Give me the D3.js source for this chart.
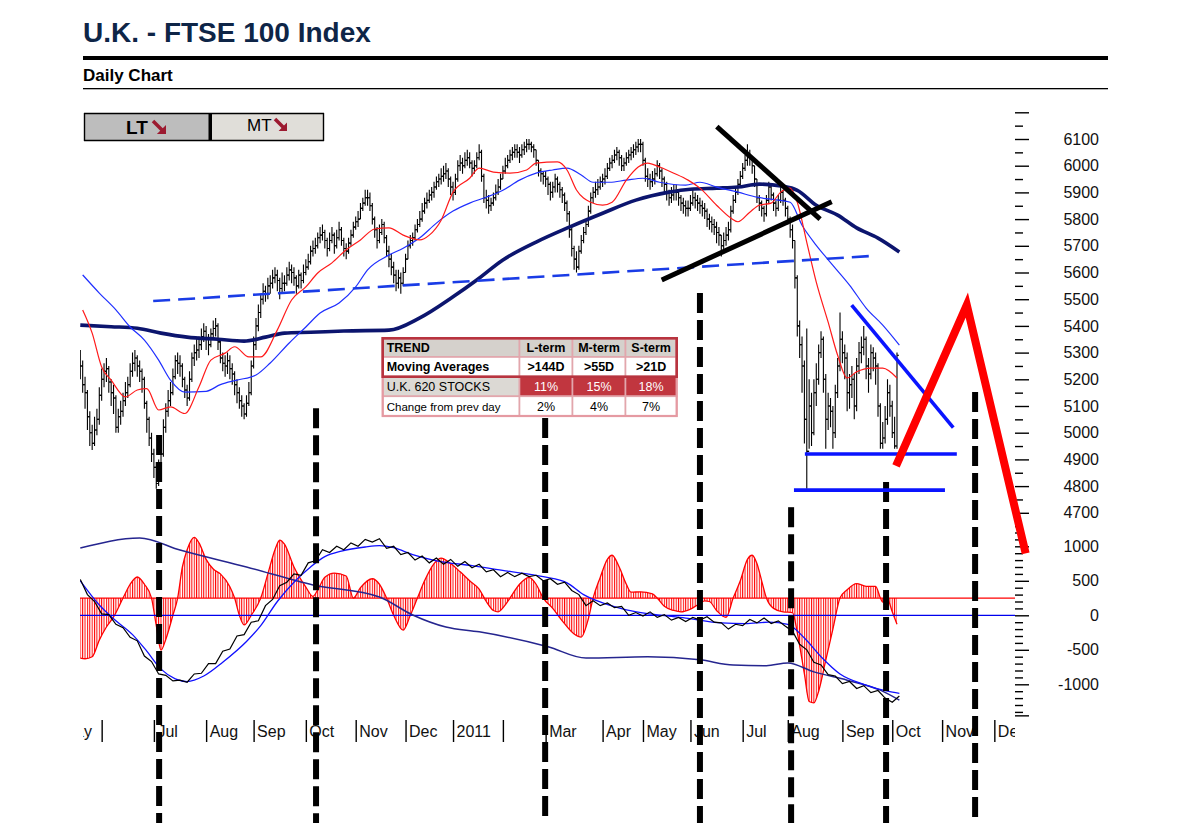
<!DOCTYPE html>
<html>
<head>
<meta charset="utf-8">
<script src="https://cdn.jsdelivr.net/npm/d3@7"></script>
<style>
  body { margin: 0; background: #fff; font-family: "Liberation Sans", Arial, sans-serif; }
</style>
</head>
<body>
<div id="chart"></div>
<script>
// ── month ticks (trading-day index) ──────────────────────────────────────
const monthTicks  = [-9.3, 9, 31, 53, 73, 95, 116, 137, 157, 178, 196, 220, 237, 257, 279, 298, 321, 342, 363, 385];
const monthLabels = ['May', '', 'Jul', 'Aug', 'Sep', 'Oct', 'Nov', 'Dec', '2011', '', 'Mar', 'Apr', 'May', 'Jun', 'Jul', 'Aug', 'Sep', 'Oct', 'Nov', 'Dec'];

// ── daily bars ───────────────────────────────────────────────────────────
const closes = [
  5250,5180,5150,5060,5000,4960,5010,5050,5140,5200, 5230,5240,5190,5150,5130,5020,5060,5080,5120,5150,
  5180,5230,5260,5280,5250,5230,5200,5110,5050,4980, 4920,4870,4810,4850,4920,5020,5080,5120,5150,5210,
  5270,5260,5250,5200,5160,5130,5200,5280,5300,5310, 5330,5360,5380,5350,5330,5370,5390,5400,5340,5280,
  5260,5250,5270,5240,5220,5180,5150,5120,5100,5070, 5110,5150,5250,5330,5400,5450,5500,5530,5520,5550,
  5560,5580,5590,5570,5540,5560,5560,5590,5610,5600, 5580,5550,5590,5570,5600,5620,5640,5680,5690,5700,
  5730,5740,5750,5720,5690,5720,5740,5700,5730,5760, 5720,5690,5680,5710,5740,5770,5790,5800,5840,5860,
  5880,5880,5850,5800,5760,5720,5750,5780,5730,5680, 5650,5620,5590,5560,5580,5560,5600,5650,5700,5720,
  5730,5760,5780,5800,5830,5860,5870,5890,5900,5920, 5940,5950,5960,5970,5980,5950,5920,5900,5950,6000,
  6010,6000,6020,6030,6010,5990,6000,6030,6050,5960, 5880,5870,5850,5860,5880,5900,5920,5950,5980,6000,
  6020,6040,6050,6060,6050,6040,6060,6070,6080,6080, 6070,6060,6020,5980,5970,5960,5950,5930,5900,5920,
  5950,5930,5910,5890,5860,5820,5760,5690,5650,5620, 5680,5720,5750,5780,5830,5880,5900,5910,5920,5940,
  5950,5960,5990,6010,6020,6040,6050,6030,6000,6010, 6030,6040,6050,6060,6070,6080,6080,6020,5960,5950,
  5940,5950,5970,6000,5980,5950,5930,5900,5880,5890, 5900,5900,5880,5860,5850,5840,5840,5860,5880,5870,
  5860,5850,5840,5830,5800,5790,5780,5770,5750,5740, 5700,5720,5740,5760,5830,5870,5900,5930,5960,5990,
  6020,6040,6030,6000,5950,5880,5860,5840,5820,5870, 5920,5890,5860,5840,5870,5900,5870,5840,5800,5760,
  5720,5580,5400,5330,5250,5050,4930,5100,5000,5150, 5200,5300,5350,5200,5050,5100,5080,5000,5150,5250,
  5350,5300,5280,5150,5180,5200,5100,5250,5300,5320, 5350,5250,5220,5300,5280,5250,5100,4960,4980,5050,
  5150,5100,5000,4950,5290
];
const highs = [
  5310,5270,5210,5160,5080,5030,5060,5090,5170,5240, 5260,5280,5250,5200,5180,5140,5090,5120,5150,5190,
  5210,5260,5300,5310,5290,5270,5240,5210,5120,5060, 5000,4940,4890,4900,4960,5050,5110,5160,5190,5240,
  5290,5300,5290,5260,5210,5180,5230,5300,5330,5350, 5360,5390,5410,5400,5370,5390,5420,5430,5410,5350,
  5300,5290,5300,5290,5260,5230,5200,5170,5140,5110, 5140,5190,5270,5360,5430,5480,5520,5560,5550,5580,
  5590,5610,5620,5610,5580,5600,5590,5620,5640,5630, 5620,5590,5610,5600,5630,5650,5670,5700,5720,5730,
  5750,5770,5780,5760,5730,5750,5770,5750,5760,5790, 5770,5730,5710,5730,5760,5790,5810,5830,5860,5880,
  5910,5910,5900,5860,5810,5770,5780,5800,5790,5740, 5700,5670,5640,5610,5610,5600,5620,5670,5720,5740,
  5750,5780,5800,5830,5860,5880,5900,5910,5920,5940, 5960,5970,5990,6000,6010,5990,5960,5940,5970,6020,
  6040,6030,6050,6060,6050,6020,6020,6050,6080,6060, 5970,5910,5890,5880,5900,5930,5950,5970,6000,6030,
  6040,6060,6070,6080,6080,6070,6080,6090,6100,6100, 6090,6080,6060,6020,5990,5980,5980,5960,5940,5940,
  5970,5960,5940,5920,5900,5870,5830,5770,5700,5680, 5700,5740,5770,5800,5850,5900,5920,5940,5950,5960,
  5970,5990,6010,6030,6040,6060,6070,6060,6040,6030, 6050,6060,6070,6080,6090,6100,6100,6090,6030,5990,
  5970,5980,5990,6020,6010,5990,5960,5940,5910,5920, 5930,5930,5910,5890,5880,5870,5870,5890,5910,5900,
  5890,5880,5870,5860,5840,5820,5810,5800,5790,5770, 5740,5750,5770,5790,5850,5890,5920,5950,5980,6010,
  6040,6080,6060,6030,6000,5950,5890,5870,5850,5890, 5940,5930,5900,5870,5890,5920,5910,5880,5850,5810,
  5780,5720,5590,5420,5360,5270,5390,5200,5150,5200, 5260,5330,5380,5360,5220,5150,5130,5100,5180,5280,
  5450,5380,5330,5300,5220,5250,5220,5280,5340,5360, 5400,5360,5280,5330,5320,5300,5260,5110,5040,5100,
  5200,5180,5120,5060,5300
];
const lows = [
  5200,5150,5090,5010,4950,4935,4950,4990,5030,5120, 5170,5190,5150,5100,5070,5000,5000,5030,5060,5100,
  5130,5170,5210,5230,5210,5190,5150,5090,5000,4950, 4890,4830,4790,4800,4840,4910,5000,5060,5100,5140,
  5200,5220,5210,5170,5130,5100,5120,5190,5250,5270, 5280,5310,5340,5310,5290,5320,5350,5360,5310,5260,
  5230,5210,5220,5200,5180,5140,5110,5090,5060,5050, 5060,5100,5140,5240,5310,5380,5430,5480,5490,5500,
  5520,5540,5560,5530,5500,5520,5530,5550,5570,5560, 5550,5520,5540,5540,5560,5590,5610,5630,5660,5670,
  5690,5710,5720,5690,5660,5680,5710,5670,5690,5720, 5700,5660,5650,5670,5700,5730,5760,5770,5800,5830,
  5850,5850,5830,5780,5730,5690,5710,5740,5710,5660, 5620,5590,5560,5530,5540,5520,5550,5600,5650,5690,
  5700,5720,5750,5770,5790,5820,5840,5860,5870,5880, 5910,5920,5930,5940,5950,5920,5890,5870,5890,5940,
  5980,5970,5990,6000,5990,5960,5970,5990,6020,5940, 5860,5840,5820,5830,5850,5870,5890,5910,5950,5970,
  5990,6010,6020,6030,6030,6010,6030,6040,6050,6060, 6050,6030,6000,5960,5940,5930,5920,5890,5870,5880,
  5900,5900,5880,5860,5830,5790,5730,5660,5610,5600, 5610,5670,5710,5740,5770,5820,5860,5880,5890,5910,
  5920,5930,5950,5980,5990,6010,6020,6000,5980,5980, 6000,6010,6020,6030,6040,6050,6050,6000,5940,5920,
  5910,5920,5930,5960,5950,5920,5900,5870,5850,5860, 5870,5870,5850,5830,5820,5810,5810,5830,5850,5840,
  5830,5820,5810,5800,5770,5760,5750,5740,5710,5700, 5660,5680,5700,5720,5750,5820,5860,5890,5920,5950,
  5980,6000,6000,5970,5920,5860,5830,5810,5790,5810, 5860,5870,5830,5810,5830,5860,5850,5810,5780,5730,
  5690,5540,5360,5280,5150,4960,4790,4940,4950,4990, 5100,5180,5280,5150,4940,5010,5020,4940,4980,5130,
  5230,5260,5200,5080,5090,5130,5050,5080,5220,5260, 5290,5200,5150,5200,5230,5180,5060,4940,4940,4960,
  5030,5060,4980,4940,4940
];

// ── moving averages, [day, value] ────────────────────────────────────────
const ma21 = [[1,5460],[5,5373],[9,5246],[13,5197],[19,5134],[24,5160],[28,5165],[33,5085],[38,5097],[44,5072],
  [50,5172],[55,5272],[61,5298],[65,5322],[71,5284],[76,5284],[83,5385],[89,5497],[95,5546],[100,5598],
  [106,5636],[112,5685],[118,5722],[124,5763],[130,5767],[136,5740],[143,5722],[147,5740],[152,5796],[157,5901],
  [164,5953],[168,5991],[174,5976],[181,5972],[188,5984],[192,6010],[201,6014],[205,5984],[209,5909],[215,5863],
  [220,5852],[224,5863],[230,5946],[235,5995],[239,6010],[244,5995],[250,5972],[256,5946],[261,5916],[268,5852],
  [274,5804],[277,5790],[282,5826],[286,5852],[291,5860],[295,5901],[299,5916],[302,5863],[306,5713],[310,5564],
  [315,5414],[319,5290],[323,5205],[327,5228],[333,5242],[338,5242],[344,5205]];
const ma55 = [[1,5591],[8,5523],[15,5460],[21,5396],[27,5347],[33,5272],[38,5197],[44,5152],[53,5155],[59,5180],
  [66,5197],[74,5216],[80,5261],[88,5336],[95,5396],[101,5448],[109,5486],[116,5546],[121,5610],[130,5665],
  [136,5691],[143,5730],[150,5785],[157,5830],[164,5860],[171,5882],[178,5908],[185,5946],[192,5972],[199,5984],
  [205,5991],[211,5965],[216,5938],[223,5938],[230,5946],[237,5953],[244,5938],[255,5927],[261,5938],[268,5920],
  [277,5901],[285,5882],[294,5871],[299,5863],[304,5777],[310,5702],[317,5627],[324,5553],[331,5467],[338,5403],
  [345,5328]];
const ma144 = [[0,5403],[13,5397],[24,5391],[34,5373],[45,5358],[58,5350],[69,5343],[78,5358],[86,5373],[97,5376],
  [111,5381],[130,5384],[143,5430],[157,5509],[167,5572],[178,5647],[192,5714],[206,5770],[220,5822],[234,5871],
  [248,5901],[257,5912],[268,5916],[277,5920],[286,5931],[296,5923],[302,5908],[310,5852],[319,5815],[327,5767],
  [336,5729],[345,5677]];

// ── lower panel oscillators ──────────────────────────────────────────────
const histBase = 250;
const histo = [[0,-870],[2,-880],[5,-850],[8,-610],[11,-420],[14,-275],[18,0],[21,200],[24,305],[27,200],[30,0],
  [32,-400],[34,-755],[36,-600],[39,-250],[41,0],[43,450],[45,700],[48,880],[50,800],[53,560],[56,420],[59,350],
  [63,165],[65,0],[67,-250],[69,-390],[72,-250],[76,0],[79,350],[82,700],[84,840],[86,780],[90,450],[95,160],
  [98,25],[100,120],[103,300],[107,360],[112,320],[115,0],[118,150],[123,280],[126,200],[129,0],[132,-250],
  [136,-465],[139,-250],[142,0],[145,250],[149,500],[152,580],[156,500],[160,380],[164,250],[168,130],[171,-50],
  [174,-180],[176,-200],[179,-100],[181,0],[185,200],[189,300],[192,200],[195,0],[199,-150],[203,-330],[208,-520],
  [211,-565],[214,-300],[216,0],[219,300],[222,560],[224,620],[227,450],[230,200],[232,85],[236,90],[241,60],
  [243,0],[246,-120],[250,-180],[253,-200],[257,-160],[260,-100],[263,-40],[265,-50],[268,-180],[272,-280],
  [275,0],[278,250],[281,560],[283,620],[285,500],[287,250],[289,0],[292,-150],[296,-200],[300,-210],[302,-500],
  [305,-1100],[307,-1500],[309,-1520],[311,-1350],[314,-900],[317,-450],[320,0],[323,120],[327,210],[331,170],
  [335,170],[337,0],[338,-60],[340,-20],[342,-200],[344,-380]];
const oscStep = 3;
const oscFast = [520,300,200,20,10,-130,-180,-320,-370,-590, -670,-850,-870,-950,-940,-970,-850,-840,-700,-700,
  -520,-490,-300,-280,-100,-80,140,230,430,480, 600,580,760,790,950,910,1000,950,1050,1000,
  1100,1060,1110,970,1000,880,910,800,860,760, 830,740,810,710,780,690,740,630,660,560,
  620,560,610,560,580,500,530,450,480,360, 300,140,210,140,180,110,130,0,40,-10,
  50,-30,10,-70,-30,-90,-30,-70,-20,-100, -110,-200,-130,-150,-60,-110,-40,-120,-80,-160,
  -230,-420,-500,-680,-720,-860,-880,-990,-960,-1060, -1020,-1120,-1090,-1200,-1260,-1170];
const oscSignal = [[0,500],[8,150],[14,-50],[22,-280],[28,-520],[34,-780],[40,-920],[45,-960],[52,-880],[60,-680],
  [70,-380],[76,-150],[83,200],[90,480],[97,700],[103,850],[110,930],[120,990],[126,1010],[132,980],[140,880],
  [150,790],[165,720],[180,640],[195,560],[205,470],[212,300],[220,180],[230,80],[240,20],[255,-40],[270,-110],
  [280,-120],[290,-100],[298,-130],[305,-330],[312,-600],[320,-850],[330,-1000],[340,-1100],[345,-1130]];
const oscSlow = [[0,975],[25,1120],[42,945],[70,700],[98,440],[126,265],[140,5],[154,-170],[168,-240],[197,-455],
  [213,-620],[239,-600],[261,-645],[275,-720],[289,-730],[298,-690],[309,-820],[323,-940],[337,-1085],[345,-1230]];

// ── axis ticks ───────────────────────────────────────────────────────────
const priceMajor  = [4700,4800,4900,5000,5100,5200,5300,5400,5500,5600,5700,5800,5900,6000,6100,6200];
const priceMinor  = [4650,4750,4850,4950,5050,5150,5250,5350,5450,5550,5650,5750,5850,5950,6050,6150];
const priceLabels = [4700,4800,4900,5000,5100,5200,5300,5400,5500,5600,5700,5800,5900,6000,6100];
const oscMajor = [1000, 500, 0, -500, -1000, -1450];
const oscMinor = [1200,1100,900,800,700,600,400,300,200,100,-100,-200,-300,-400,-600,-700,-800,-900,-1100,-1200,-1300,-1400];
const oscLabels = [1000, 500, 0, -500, -1000];

// ── drawn annotations: [day, price] ──────────────────────────────────────
const supportDashed = [[30.7,5493],[333.5,5662]];
const blackDown  = [[268.1,6146],[311.6,5800]];
const blackUp    = [[244.9,5572],[316.5,5865]];
const blueDown   = [[324.9,5478],[367.7,5019]];
const blueFloor1 = [[305.2,4920],[369.2,4920]];
const blueFloor2 = [[300.6,4785],[364.2,4785]];
const projection = [[343.6,4876],[373.4,5478],[398.2,4548]];
const cycleDays  = [33.2, 99.3, 195.8, 261, 299.4, 339.4, 376.9];
const cycleTops  = [4991, 5092, 5055, 5523, 4721, 4815, 5152];

// ── trend table ──────────────────────────────────────────────────────────
const trendHead  = ['TREND', 'L-term', 'M-term', 'S-term'];
const trendMA    = ['Moving Averages', '>144D', '>55D', '>21D'];
const trendPct   = ['U.K. 620 STOCKS', '11%', '15%', '18%'];
const trendChg   = ['Change from prev day', '2%', '4%', '7%'];

// ══════════════════════════════════════════════════════════════════════════
const W = 1180, H = 823;
const svg = d3.select('#chart').append('svg').attr('width', W).attr('height', H);
const defs = svg.append('defs');

const x  = d3.scaleLinear().domain([0, 394]).range([80.3, 1015.7]);
const yP = d3.scaleLinear().domain([4650, 6200]).range([526.15, 112.3]);
const yL = d3.scaleLinear().domain([-1450, 1200]).range([715.35, 532.5]);

defs.append('clipPath').attr('id', 'clipP').append('rect').attr('x', 80).attr('y', 100).attr('width', 935).attr('height', 430);
defs.append('clipPath').attr('id', 'clipL').append('rect').attr('x', 80).attr('y', 530).attr('width', 935).attr('height', 190);
defs.append('clipPath').attr('id', 'clipX').append('rect').attr('x', 83.3).attr('y', -10).attr('width', 931.7).attr('height', 50);

const dayW = x(1) - x(0);
const pat = defs.append('pattern').attr('id', 'hatch').attr('patternUnits', 'userSpaceOnUse')
  .attr('x', x(0) - 0.5).attr('y', 0).attr('width', dayW).attr('height', 10);
pat.append('rect').attr('x', 0).attr('y', 0).attr('width', 1).attr('height', 10).attr('fill', '#ff0000');

// ── header ──
svg.append('text').attr('x', 83).attr('y', 42).attr('fill', '#0e2547')
  .attr('font-size', 28).attr('font-weight', 'bold').text('U.K. - FTSE 100 Index');
svg.append('rect').attr('x', 83).attr('y', 56).attr('width', 1025).attr('height', 4).attr('fill', '#000');
svg.append('text').attr('x', 83).attr('y', 81).attr('fill', '#000')
  .attr('font-size', 17).attr('font-weight', 'bold').text('Daily Chart');
svg.append('rect').attr('x', 83).attr('y', 88).attr('width', 1025).attr('height', 1.3).attr('fill', '#000');

// ── LT / MT boxes ──
svg.append('rect').attr('x', 84).attr('y', 113.5).attr('width', 125).attr('height', 27).attr('fill', '#bdbdbd');
svg.append('rect').attr('x', 211).attr('y', 113.5).attr('width', 113).attr('height', 27).attr('fill', '#e0ded9');
svg.append('path').attr('d', 'M84,113.5H324M84,140.5H324M84.5,113V141M323.5,113V141')
  .attr('stroke', '#000').attr('stroke-width', 1.4).attr('fill', 'none');
svg.append('rect').attr('x', 208.5).attr('y', 113).attr('width', 3.5).attr('height', 28).attr('fill', '#000');
svg.append('text').attr('x', 126).attr('y', 134).attr('font-size', 19).attr('font-weight', 'bold').text('LT');
svg.append('text').attr('x', 247).attr('y', 131).attr('font-size', 17).text('MT');
function arrowSE(x0, y0, s) {
  svg.append('line').attr('x1', x0).attr('y1', y0).attr('x2', x0 + s * 0.75).attr('y2', y0 + s * 0.75)
    .attr('stroke', '#9c1a30').attr('stroke-width', 3.6);
  svg.append('path').attr('fill', '#9c1a30')
    .attr('d', `M${x0 + s},${y0 + s}L${x0 + s},${y0 + s * 0.3}L${x0 + s * 0.3},${y0 + s}Z`);
}
arrowSE(153, 121, 13);
arrowSE(275, 119, 12);

// ── price panel ──
const gP = svg.append('g').attr('clip-path', 'url(#clipP)');
const days = closes.map((c, i) => ({ i, c, h: highs[i], l: lows[i], o: i ? closes[i - 1] : c }));
gP.append('g').selectAll('path').data(days).join('path')
  .attr('d', d => {
    const cx = x(d.i);
    return `M${cx},${yP(d.h)}V${yP(d.l)}M${cx - 2},${yP(d.o)}H${cx}M${cx},${yP(d.c)}H${cx + 2}`;
  })
  .attr('stroke', '#000').attr('stroke-width', 1.1).attr('fill', 'none');

const lineP = d3.line().x(d => x(d[0])).y(d => yP(d[1])).curve(d3.curveMonotoneX);
gP.append('path').datum(ma144).attr('d', lineP).attr('fill', 'none').attr('stroke', '#0c156e').attr('stroke-width', 3.6);
gP.append('path').datum(ma55).attr('d', lineP).attr('fill', 'none').attr('stroke', '#1f2fff').attr('stroke-width', 1.2);
gP.append('path').datum(ma21).attr('d', lineP).attr('fill', 'none').attr('stroke', '#ff1a1a').attr('stroke-width', 1.2);

// ── lower panel ──
const gL = svg.append('g').attr('clip-path', 'url(#clipL)');
const hArea = d3.area().x(d => x(d[0])).y0(yL(histBase)).y1(d => yL(histBase + d[1])).curve(d3.curveMonotoneX);
const hLine = d3.line().x(d => x(d[0])).y(d => yL(histBase + d[1])).curve(d3.curveMonotoneX);
gL.append('path').datum(histo).attr('d', hArea).attr('fill', 'url(#hatch)');
gL.append('path').datum(histo).attr('d', hLine).attr('fill', 'none').attr('stroke', '#ff0000').attr('stroke-width', 1.3);
gL.append('line').attr('x1', 80).attr('x2', 1015).attr('y1', yL(histBase)).attr('y2', yL(histBase))
  .attr('stroke', '#ff0000').attr('stroke-width', 1.2);
gL.append('line').attr('x1', 80).attr('x2', 1015).attr('y1', yL(0)).attr('y2', yL(0))
  .attr('stroke', '#0000ee').attr('stroke-width', 1.2);

const lineL = d3.line().x(d => x(d[0])).y(d => yL(d[1]));
gL.append('path').datum(oscSlow).attr('d', lineL.curve(d3.curveMonotoneX)).attr('fill', 'none')
  .attr('stroke', '#25258f').attr('stroke-width', 1.5);
gL.append('path').datum(oscSignal).attr('d', lineL.curve(d3.curveMonotoneX)).attr('fill', 'none')
  .attr('stroke', '#1010ff').attr('stroke-width', 1.3);
gL.append('path').datum(oscFast.map((v, k) => [k * oscStep, v])).attr('d', lineL.curve(d3.curveLinear))
  .attr('fill', 'none').attr('stroke', '#000').attr('stroke-width', 1.2);

// ── axes ──
function styleAxis(g) {
  g.select('.domain').remove();
  g.selectAll('.tick line').attr('stroke', '#000').attr('stroke-width', 1.4);
  g.selectAll('.tick text').attr('fill', '#111').attr('font-size', 16)
    .attr('font-family', '"Liberation Sans", Arial, sans-serif');
}
const gyP = svg.append('g').attr('transform', 'translate(1015,0)')
  .call(d3.axisRight(yP).tickValues(priceMajor).tickSize(14).tickFormat(d => priceLabels.includes(d) ? String(d) : ''));
styleAxis(gyP);
gyP.selectAll('.tick text').attr('text-anchor', 'end').attr('x', 84);
const gyPm = svg.append('g').attr('transform', 'translate(1015,0)')
  .call(d3.axisRight(yP).tickValues(priceMinor).tickSize(8).tickFormat(''));
styleAxis(gyPm);

const gyL = svg.append('g').attr('transform', 'translate(1015,0)')
  .call(d3.axisRight(yL).tickValues(oscMajor).tickSize(14).tickFormat(d => oscLabels.includes(d) ? String(d) : ''));
styleAxis(gyL);
gyL.selectAll('.tick text').attr('text-anchor', 'end').attr('x', 84);
const gyLm = svg.append('g').attr('transform', 'translate(1015,0)')
  .call(d3.axisRight(yL).tickValues(oscMinor).tickSize(8).tickFormat(''));
styleAxis(gyLm);

const gx = svg.append('g').attr('transform', 'translate(0,720)').attr('clip-path', 'url(#clipX)')
  .call(d3.axisBottom(x).tickValues(monthTicks).tickSize(22).tickFormat((d, i) => monthLabels[i]));
styleAxis(gx);
gx.selectAll('.tick text').attr('text-anchor', 'start').attr('x', 3).attr('y', 17).attr('dy', 0);

// ── annotations ──
const segP = d3.line().x(d => x(d[0])).y(d => yP(d[1]));
svg.append('path').datum(supportDashed).attr('d', segP).attr('stroke', '#1a3ce6').attr('stroke-width', 2.6)
  .attr('stroke-dasharray', '17,8').attr('fill', 'none');

svg.append('g').selectAll('line').data(cycleDays).join('line')
  .attr('x1', d => x(d)).attr('x2', d => x(d))
  .attr('y1', (d, i) => yP(cycleTops[i])).attr('y2', 823)
  .attr('stroke', '#000').attr('stroke-width', 6).attr('stroke-dasharray', '20,7');

[blackDown, blackUp].forEach(seg => svg.append('path').datum(seg).attr('d', segP)
  .attr('stroke', '#000').attr('stroke-width', 5).attr('fill', 'none'));
[blueDown].forEach(seg => svg.append('path').datum(seg).attr('d', segP)
  .attr('stroke', '#0a14ff').attr('stroke-width', 3.6).attr('fill', 'none'));
[blueFloor1, blueFloor2].forEach(seg => svg.append('path').datum(seg).attr('d', segP)
  .attr('stroke', '#0a14ff').attr('stroke-width', 3.6).attr('fill', 'none'));
svg.append('path').datum(projection).attr('d', segP).attr('stroke', '#ff0000').attr('stroke-width', 8)
  .attr('stroke-linejoin', 'miter').attr('fill', 'none');

// ── trend table ──
const colX = [382.7, 519.5, 572.5, 625.5, 676.7];
const rowY = [338.3, 357, 376.7, 396.3, 416];
const rows = [trendHead, trendMA, trendPct, trendChg];
const gT = svg.append('g');
rows.forEach((row, r) => {
  row.forEach((txt, c) => {
    let fill = '#fff';
    if (r === 0) fill = '#d5d1cc';
    if (r === 2) fill = c === 0 ? '#dcd9d4' : '#c1363f';
    gT.append('rect').attr('x', colX[c]).attr('y', rowY[r])
      .attr('width', colX[c + 1] - colX[c]).attr('height', rowY[r + 1] - rowY[r])
      .attr('fill', fill).attr('stroke', '#e2a6ac').attr('stroke-width', 1.6);
    gT.append('text')
      .attr('x', c === 0 ? colX[0] + 4 : (colX[c] + colX[c + 1]) / 2)
      .attr('y', rowY[r + 1] - 5.5)
      .attr('text-anchor', c === 0 ? 'start' : 'middle')
      .attr('font-size', r === 3 && c === 0 ? 11.5 : 12.5)
      .attr('font-weight', r < 2 ? 'bold' : 'normal')
      .attr('fill', r === 2 && c > 0 ? '#fff' : '#000')
      .text(txt);
  });
});
gT.append('rect').attr('x', colX[0]).attr('y', rowY[0]).attr('width', colX[4] - colX[0]).attr('height', rowY[4] - rowY[0])
  .attr('fill', 'none').attr('stroke', '#e59aa2').attr('stroke-width', 2.2);
gT.append('rect').attr('x', colX[0]).attr('y', rowY[0]).attr('width', colX[4] - colX[0]).attr('height', rowY[2] - rowY[0])
  .attr('fill', 'none').attr('stroke', '#b8343f').attr('stroke-width', 2.6);
</script>
</body>
</html>
